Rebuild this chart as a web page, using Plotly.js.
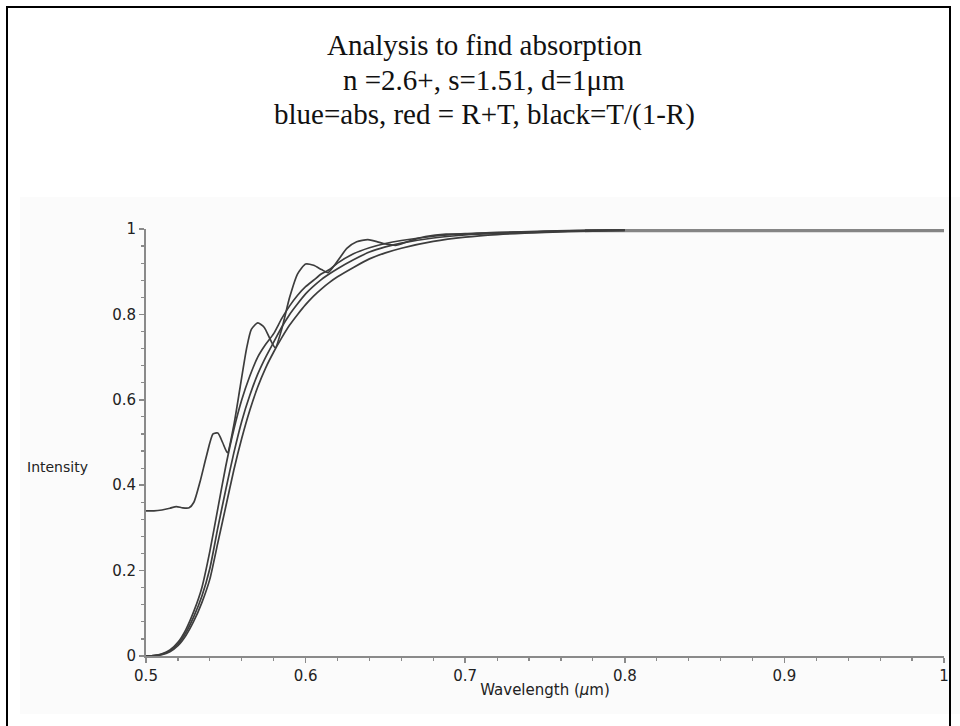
<!DOCTYPE html>
<html>
<head>
<meta charset="utf-8">
<script src="https://cdn.plot.ly/plotly-3.0.1.min.js"></script>
<style>
  html, body { margin: 0; padding: 0; background: #ffffff; overflow: hidden; }
  #wrap { position: relative; width: 960px; height: 726px; }
  #chart { position: absolute; left: 0; top: 0; width: 960px; height: 726px; }
  #frame { position: absolute; left: 6px; top: 6px; width: 941px; height: 740px;
           border: 2px solid #000; pointer-events: none; }
</style>
</head>
<body>
<div id="wrap">
  <div id="chart"></div>
  <div id="frame"></div>
</div>
<script>
// ---- data ----
const lambdaOsc = [0.500,0.505,0.510,0.515,0.519,0.523,0.527,0.530,0.534,0.538,
                   0.542,0.545,0.548,0.551,0.555,0.559,0.563,0.566,0.570,0.574,
                   0.578,0.581,0.585,0.590,0.595,0.600,0.605,0.610,0.614,0.620,
                   0.626,0.632,0.639,0.645,0.650,0.657,0.665,0.675,0.688,0.700,
                   0.720,0.740,0.760,0.780,0.800];
const valuesOsc = [0.340,0.340,0.342,0.346,0.350,0.347,0.347,0.360,0.410,0.470,
                   0.520,0.522,0.500,0.476,0.540,0.630,0.720,0.765,0.780,0.770,
                   0.740,0.722,0.765,0.840,0.895,0.918,0.915,0.905,0.898,0.925,
                   0.955,0.970,0.975,0.970,0.965,0.962,0.972,0.982,0.988,0.988,
                   0.991,0.993,0.995,0.997,0.998];

const lambdaSmooth = [0.500,0.505,0.510,0.515,0.520,0.525,0.530,0.535,0.540,0.545,
                      0.550,0.555,0.560,0.565,0.570,0.575,0.580,0.585,0.590,0.595,
                      0.600,0.605,0.610,0.615,0.620,0.630,0.640,0.650,0.660,0.680,
                      0.700,0.720,0.750,0.780,0.800];
const valuesB = [0.000,0.001,0.005,0.014,0.032,0.062,0.105,0.160,0.245,0.345,
                 0.445,0.530,0.600,0.655,0.700,0.730,0.755,0.790,0.820,0.845,
                 0.865,0.880,0.895,0.905,0.920,0.942,0.956,0.966,0.973,0.983,
                 0.989,0.992,0.995,0.997,0.998];
const valuesC = [0.000,0.001,0.004,0.012,0.028,0.055,0.093,0.140,0.205,0.300,
                 0.390,0.475,0.550,0.610,0.660,0.700,0.735,0.770,0.800,0.825,
                 0.848,0.866,0.882,0.895,0.907,0.928,0.946,0.958,0.967,0.979,
                 0.986,0.990,0.994,0.996,0.997];
const valuesD = [0.000,0.001,0.003,0.010,0.024,0.048,0.082,0.125,0.180,0.265,
                 0.350,0.435,0.510,0.575,0.630,0.675,0.712,0.745,0.775,0.800,
                 0.823,0.843,0.860,0.875,0.888,0.910,0.930,0.944,0.955,0.971,
                 0.981,0.987,0.992,0.995,0.997];

const lambdaTail = [0.775,0.800,0.850,0.900,0.950,1.000];
const valuesTail = [0.996,0.996,0.996,0.996,0.996,0.996];

const xTickVals = [0.5,0.6,0.7,0.8,0.9,1];
const xTickText = ['0.5','0.6','0.7','0.8','0.9','1'];
const yTickVals = [0,0.2,0.4,0.6,0.8,1];
const yTickText = ['0','0.2','0.4','0.6','0.8','1'];

const titleLines = ['Analysis to find absorption',
                    'n =2.6+, s=1.51, d=1μm',
                    'blue=abs, red = R+T, black=T/(1-R)'];

// ---- chart ----
const lineStyle = {color: '#3d3d3d', width: 1.7, shape: 'spline', smoothing: 0.6};
const traces = [
  {x: lambdaTail, y: valuesTail, mode: 'lines', name: 'tail',
   line: {color: '#858585', width: 3.2}, cliponaxis: false},
  {x: lambdaOsc, y: valuesOsc, mode: 'lines', name: 'R+T', line: lineStyle, cliponaxis: false},
  {x: lambdaSmooth, y: valuesB, mode: 'lines', name: 'T/(1-R)', line: lineStyle, cliponaxis: false},
  {x: lambdaSmooth, y: valuesC, mode: 'lines', name: 'abs', line: lineStyle, cliponaxis: false},
  {x: lambdaSmooth, y: valuesD, mode: 'lines', name: 'D', line: lineStyle, cliponaxis: false}
];

const tickFont = {family: 'DejaVu Sans, sans-serif', size: 15, color: '#222'};
const titleFont = {family: 'Liberation Serif, Times New Roman, serif', size: 29, color: '#111'};
const titleY = [1.431, 1.349, 1.268];

const layout = {
  width: 960, height: 726,
  margin: {l: 146, r: 16, t: 229, b: 70},
  paper_bgcolor: '#ffffff',
  plot_bgcolor: 'rgba(0,0,0,0)',
  showlegend: false,
  xaxis: {
    range: [0.5, 1], autorange: false,
    showline: true, linecolor: '#8a8a8a', linewidth: 2,
    showgrid: false, zeroline: false,
    ticks: 'outside', ticklen: 5, tickcolor: '#8a8a8a', tickwidth: 1.5,
    tickvals: xTickVals, ticktext: xTickText, tickfont: tickFont,
    minor: {dtick: 0.02, ticks: 'outside', ticklen: 3, tickcolor: '#8a8a8a', tickwidth: 1.2, showgrid: false},
    title: {text: 'Wavelength (<i>μ</i>m)', font: {family: 'DejaVu Sans, sans-serif', size: 15, color: '#222'}, standoff: 0},
    automargin: false
  },
  yaxis: {
    range: [0, 1], autorange: false,
    showline: true, linecolor: '#8a8a8a', linewidth: 2,
    showgrid: false, zeroline: false,
    ticks: 'outside', ticklen: 5, tickcolor: '#8a8a8a', tickwidth: 1.5,
    tickvals: yTickVals, ticktext: yTickText, tickfont: tickFont,
    minor: {dtick: 0.04, ticks: 'outside', ticklen: 3, tickcolor: '#8a8a8a', tickwidth: 1.2, showgrid: false},
    automargin: false
  },
  annotations: [
    {text: 'Intensity', xref: 'paper', yref: 'paper', x: -0.152, y: 0.443,
     xanchor: 'left', yanchor: 'middle', showarrow: false,
     font: {family: 'DejaVu Sans, sans-serif', size: 14, color: '#222'}}
  ].concat(titleLines.map((t, i) => ({
     text: t, xref: 'paper', yref: 'paper', x: 0.4236, y: titleY[i],
     xanchor: 'center', yanchor: 'middle', showarrow: false, font: titleFont
  }))),
  shapes: [
    {type: 'rect', xref: 'paper', yref: 'paper', x0: -0.158, x1: 1.03, y0: -0.136, y1: 1.075,
     fillcolor: '#fbfbfb', line: {width: 0}, layer: 'below'}
  ]
};

Plotly.newPlot('chart', traces, layout, {displayModeBar: false, staticPlot: true});
</script>
</body>
</html>
